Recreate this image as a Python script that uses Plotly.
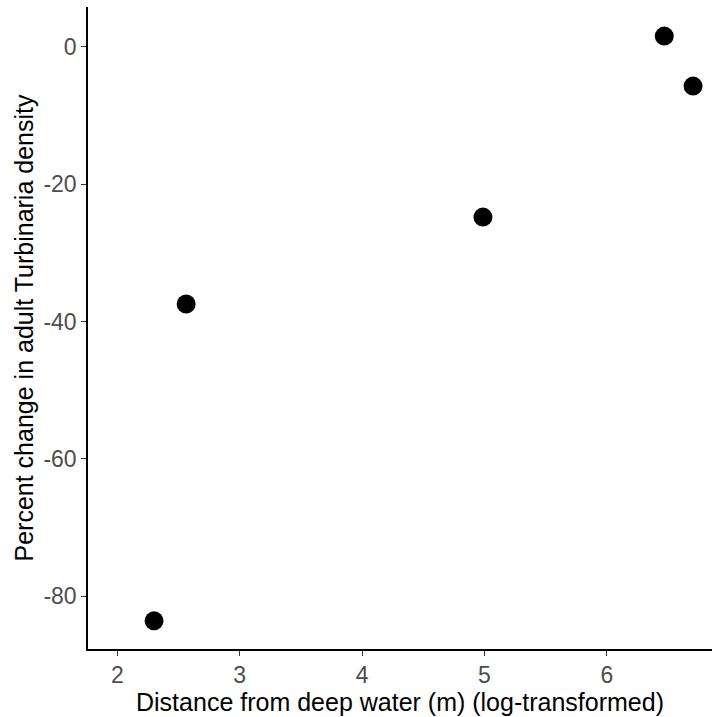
import plotly.graph_objects as go

distance_log = [2.30, 2.562, 4.988, 6.47, 6.705]
pct_change = [-83.6, -37.45, -24.8, 1.56, -5.72]
x_ticks = [2, 3, 4, 5, 6]
y_ticks = [0, -20, -40, -60, -80]

fig = go.Figure()
fig.add_trace(go.Scatter(
    x=distance_log, y=pct_change, mode="markers",
    marker=dict(size=19, color="black", line=dict(width=0)),
    showlegend=False,
))

font_fam = "Liberation Sans, Arial, sans-serif"
fig.update_layout(
    width=712, height=717,
    margin=dict(l=88, r=0, t=7, b=68),
    paper_bgcolor="white", plot_bgcolor="white",
    font=dict(family=font_fam),
)
fig.update_xaxes(
    range=[1.76, 6.86], tickvals=x_ticks, ticktext=[str(v) for v in x_ticks],
    showgrid=False, zeroline=False,
    showline=True, linecolor="black", linewidth=1.5,
    ticks="outside", ticklen=5, tickwidth=1.2, tickcolor="#333333",
    tickfont=dict(size=23, color="#4D4D4D", family=font_fam),
    title=dict(text="Distance from deep water (m) (log-transformed)",
               font=dict(size=25, color="black", family=font_fam), standoff=2),
)
fig.update_yaxes(
    range=[-87.7, 5.8], tickvals=y_ticks, ticktext=[str(v) for v in y_ticks],
    showgrid=False, zeroline=False,
    showline=True, linecolor="black", linewidth=1.5,
    ticks="outside", ticklen=5, tickwidth=1.2, tickcolor="#333333",
    tickfont=dict(size=23, color="#4D4D4D", family=font_fam),
    title=dict(text="Percent change in adult Turbinaria density",
               font=dict(size=25, color="black", family=font_fam), standoff=3),
)
fig.write_html("out.html")
